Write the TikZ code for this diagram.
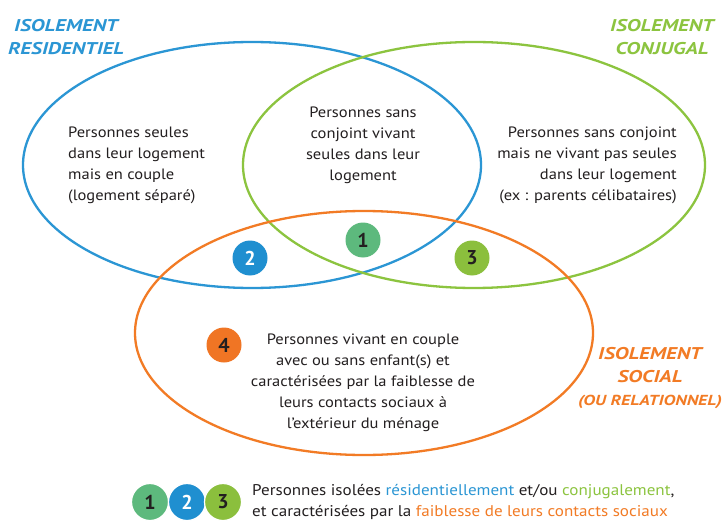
\documentclass[tikz,border=0pt]{standalone}
\usepackage{fontspec}
\setmainfont{PT Sans}
\newfontfamily\bodyfont[FakeStretch=1.1]{PT Sans}
\newfontfamily\ttlfont[FakeStretch=1.25]{PT Sans}
\usetikzlibrary{shapes.geometric}
\definecolor{blueC}{HTML}{2B96D4}
\definecolor{greenC}{HTML}{8CC43F}
\definecolor{orangeC}{HTML}{F27B25}
\definecolor{numA}{HTML}{5DB97D}
\definecolor{numB}{HTML}{1F8FD0}
\definecolor{numC}{HTML}{8BBF3D}
\definecolor{numD}{HTML}{F07524}
\definecolor{txt}{HTML}{231F20}
\begin{document}
\begin{tikzpicture}[x=1pt,y=-1pt,
  ell/.style={ellipse,draw,line width=2.3pt,inner sep=0pt,minimum width=#1},
  body/.style={font=\bodyfont\fontsize{15}{21}\selectfont,text=txt,inner sep=0pt},
  ttl/.style={font=\ttlfont\fontsize{17}{23}\selectfont\bfseries\itshape,inner sep=0pt,align=center},
  num/.style={circle,fill=#1,minimum size=35pt,inner sep=0pt,font=\fontsize{20}{20}\selectfont\bfseries,text=txt},
  lnum/.style={circle,fill=#1,draw=white,line width=1.2pt,minimum size=37pt,inner sep=0pt,font=\fontsize{20}{20}\selectfont\bfseries,text=txt}]
\useasboundingbox[fill=white] (0,0) rectangle (727,521);
\node[ell=458pt,draw=blueC,minimum height=246pt] (eblue) at (252,165) {};
\node[ell=462pt,draw=greenC,minimum height=246pt] (egreen) at (474,165) {};
\node[ell=458pt,draw=orangeC,minimum height=244pt] (eorange) at (364,333) {};
\node[ttl,text=blueC] (tblue) at (66,37) {ISOLEMENT\\RESIDENTIEL};
\node[ttl,text=greenC] (tgreen) at (662,37) {ISOLEMENT\\CONJUGAL};
\node[ttl,text=orangeC] (torange) at (650,378) {ISOLEMENT\\SOCIAL\\{\fontsize{14.5}{23}\selectfont(OU RELATIONNEL)}};
\node[body,anchor=west,align=left] (tleft) at (68,165) {Personnes seules\\dans leur logement\\mais en couple\\(logement séparé)};
\node[body,align=center] (tmid) at (363,145) {Personnes sans\\conjoint vivant\\seules dans leur\\logement};
\node[body,anchor=east,align=right] (tright) at (677,165) {Personnes sans conjoint\\mais ne vivant pas seules\\dans leur logement\\(ex : parents célibataires)};
\node[body,align=center] (tbot) at (363,383) {Personnes vivant en couple\\avec ou sans enfant(s) et\\caractérisées par la faiblesse de\\leurs contacts sociaux à\\l’extérieur du ménage};
\node[num=numA] (n1) at (363,240) {1};
\node[num=numB,text=white] (n2) at (250,258) {2};
\node[num=numC] (n3) at (472,258) {3};
\node[num=numD] (n4) at (224,345) {4};
\node[lnum=numA] (l1) at (150,502) {1};
\node[lnum=numB,text=white] (l2) at (187,502) {2};
\node[lnum=numC] (l3) at (223,502) {3};
\node[body,anchor=west,align=left,font=\bodyfont\fontsize{15.5}{21}\selectfont] (leg) at (252,502) {Personnes isolées \textcolor{blueC}{résidentiellement} et/ou \textcolor{greenC}{conjugalement},\\et caractérisées par la \textcolor{orangeC}{faiblesse de leurs contacts sociaux}};
\end{tikzpicture}
\end{document}
